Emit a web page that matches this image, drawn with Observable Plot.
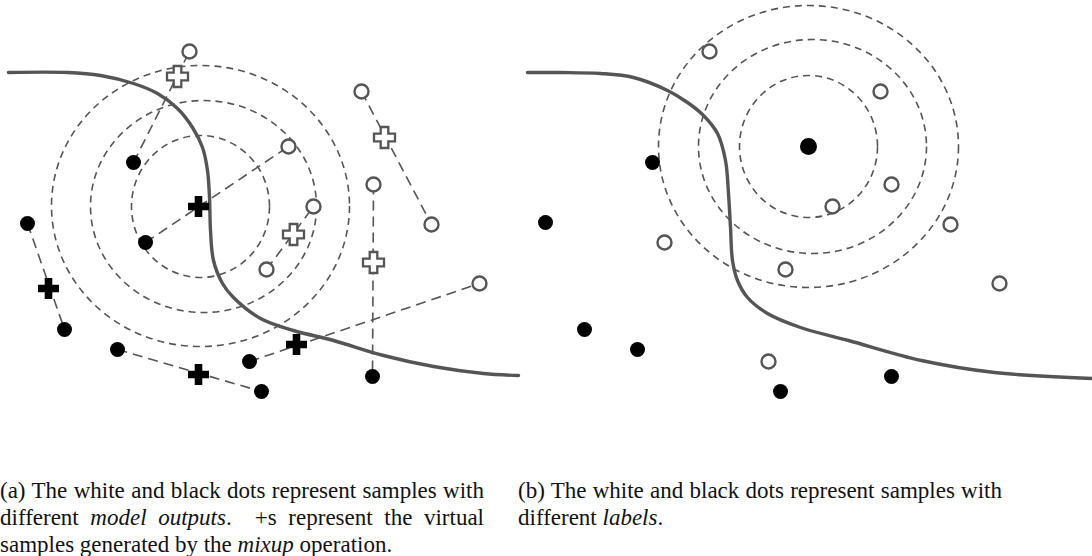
<!DOCTYPE html>
<html><head><meta charset="utf-8">
<script src="https://cdn.jsdelivr.net/npm/d3@7"></script>
<script src="https://cdn.jsdelivr.net/npm/@observablehq/plot@0.6"></script>
<style>
body{margin:0;background:#fff;width:1092px;height:556px;overflow:hidden}
#chart svg{display:block}
.caps{position:relative;height:78px;font-family:"Liberation Serif","Times New Roman",serif;font-size:23px;line-height:27px;color:#111}
.cap{position:absolute;top:-1px;width:484px;text-align:justify}
</style></head><body>
<div id="chart"></div>
<div class="caps">
<div class="cap" style="left:0">(a) The white and black dots represent samples with different <i>model outputs</i>.&nbsp; +s represent the virtual samples generated by the <i>mixup</i> operation.</div>
<div class="cap" style="left:518px">(b) The white and black dots represent samples with different <i>labels</i>.</div>
</div>
<script>
// ---- Panel (a): model outputs + mixup ----
const boundaryA = [[8,72],[67,72],[100,75],[133,83],[157,93],[177,108],[192,127],[202,147],[207,170],[209,197],[210,230],[213,260],[222,283],[233,297],[260,318],[293,330],[333,340],[383,355],[433,366],[483,373],[518,375]];
const ringsA = [[200,206,69,71],[203,206,113,106],[200,205.5,149,140.5]];
const openA = [[189,51],[361,91],[288,146],[373,184],[313,206],[431,224],[266,269],[479,283]];
const blackA = [[133,162],[27,223],[145,242],[64,329],[117,349],[249,361],[372,376],[261,391]];
const openCrossA = [[177,76],[384,137],[293,234],[373,262]];
const blackCrossA = [[198,206],[48,288],[296,344],[198,374]];
const pairsA = [[133,162,189,51],[145,242,288,146],[361,91,431,224],[266,269,313,206],[373,184,372,376],[27,223,64,329],[117,349,261,391],[249,361,479,283]];

// ---- Panel (b): labels ----
const boundaryB = [[527,72],[560,72],[600,73],[633,77],[667,90],[687,102],[703,115],[717,133],[725,160],[728,193],[730,227],[732,260],[737,280],[747,297],[767,313],[800,327],[848,340],[921,360],[994,372],[1092,378]];
const ringsB = [[808,146,69,71],[812,146,114,107],[808,146,150,141]];
const openB = [[709,51],[880,91],[891,184],[832,206],[950,224],[664,242],[785,269],[999,283],[768,361]];
const blackB = [[652,162],[545,222],[584,329],[637,349],[891,376],[780,391]];
const centerB = [[808,146]];

const GRAY = "#555";
const pt = a => a.map(([x,y]) => ({x,y}));

function ellipseSymbol(rx, ry){
  const k = 0.5523;
  return {draw(c){
    c.moveTo(rx,0);
    c.bezierCurveTo(rx, ry*k, rx*k, ry, 0, ry);
    c.bezierCurveTo(-rx*k, ry, -rx, ry*k, -rx, 0);
    c.bezierCurveTo(-rx, -ry*k, -rx*k, -ry, 0, -ry);
    c.bezierCurveTo(rx*k, -ry, rx, -ry*k, rx, 0);
    c.closePath();
  }};
}
function plusSymbol(a, t){
  return {draw(c){
    c.moveTo(-t,-a); c.lineTo(t,-a); c.lineTo(t,-t); c.lineTo(a,-t); c.lineTo(a,t); c.lineTo(t,t);
    c.lineTo(t,a); c.lineTo(-t,a); c.lineTo(-t,t); c.lineTo(-a,t); c.lineTo(-a,-t); c.lineTo(-t,-t); c.closePath();
  }};
}

const ringMarks = [...ringsA, ...ringsB].map(([cx,cy,rx,ry]) =>
  Plot.dot([{x:cx,y:cy}], {x:"x", y:"y", r:1, symbol: ellipseSymbol(rx, ry), fill:"none", stroke:GRAY, strokeWidth:1.6, strokeDasharray:"7,5"}));

const segs = pairsA.map(([x1,y1,x2,y2]) => ({x1,y1,x2,y2}));

const chart = Plot.plot({
  width: 1092, height: 478, margin: 0,
  x: {domain:[0,1092], range:[0,1092], axis:null},
  y: {domain:[0,478], range:[0,478], axis:null},
  marks: [
    ...ringMarks,
    Plot.link(segs, {x1:"x1", y1:"y1", x2:"x2", y2:"y2", stroke:GRAY, strokeWidth:1.6, strokeDasharray:"10,6"}),
    Plot.line(pt(boundaryA), {x:"x", y:"y", curve:"catmull-rom", stroke:GRAY, strokeWidth:3.4}),
    Plot.line(pt(boundaryB), {x:"x", y:"y", curve:"catmull-rom", stroke:GRAY, strokeWidth:3.4}),
    Plot.dot(pt([...openA, ...openB]), {x:"x", y:"y", r:7, fill:"white", stroke:GRAY, strokeWidth:2.4}),
    Plot.dot(pt([...blackA, ...blackB]), {x:"x", y:"y", r:7.5, fill:"black"}),
    Plot.dot(pt(centerB), {x:"x", y:"y", r:8.5, fill:"black"}),
    Plot.dot(pt(openCrossA), {x:"x", y:"y", r:1, symbol: plusSymbol(10.5, 3.8), fill:"white", stroke:GRAY, strokeWidth:2.3}),
    Plot.dot(pt(blackCrossA), {x:"x", y:"y", r:1, symbol: plusSymbol(10.5, 3.8), fill:"black"})
  ]
});
document.getElementById("chart").appendChild(chart);
</script>
</body></html>
